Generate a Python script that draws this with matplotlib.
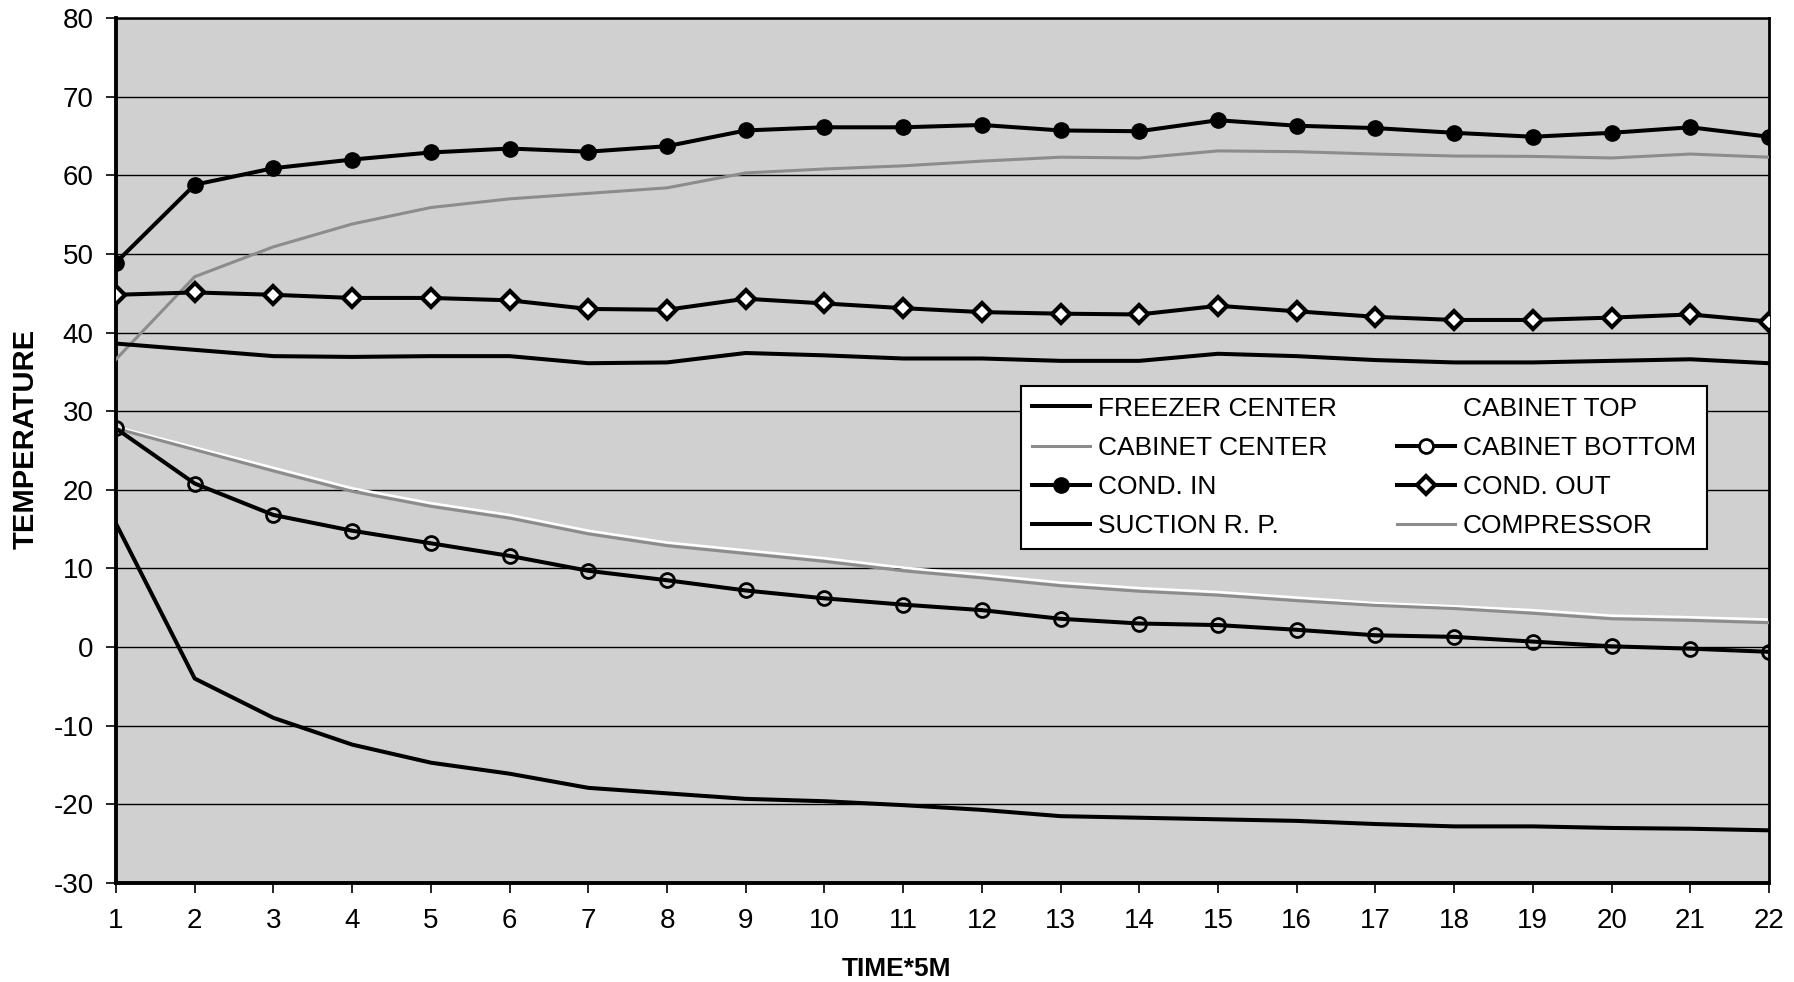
import matplotlib
matplotlib.use("Agg")
import matplotlib.pyplot as plt
from matplotlib.lines import Line2D

plt.rcParams["font.family"] = ["Liberation Sans", "DejaVu Sans"]
plt.rcParams["axes.unicode_minus"] = False

time_steps = list(range(1, 23))

freezer_center = [15.7, -4.0, -9.0, -12.4, -14.7, -16.1, -17.9, -18.6, -19.3, -19.6, -20.1,
                  -20.7, -21.5, -21.7, -21.9, -22.1, -22.5, -22.8, -22.8, -23.0, -23.1, -23.3]
cabinet_top = [28.0, 25.4, 22.8, 20.2, 18.3, 16.8, 14.8, 13.3, 12.3, 11.3, 10.1,
               9.2, 8.2, 7.5, 7.0, 6.3, 5.6, 5.2, 4.7, 4.0, 3.8, 3.5]
cabinet_center = [27.8, 25.1, 22.4, 19.8, 17.9, 16.4, 14.4, 12.9, 11.9, 10.9, 9.7,
                  8.8, 7.8, 7.1, 6.6, 5.9, 5.3, 4.9, 4.3, 3.6, 3.4, 3.1]
cabinet_bottom = [27.8, 20.8, 16.8, 14.8, 13.2, 11.6, 9.7, 8.5, 7.2, 6.2, 5.4,
                  4.7, 3.6, 3.0, 2.8, 2.2, 1.5, 1.3, 0.7, 0.1, -0.2, -0.6]
cond_in = [48.9, 58.8, 60.9, 62.0, 62.9, 63.4, 63.0, 63.7, 65.7, 66.1, 66.1,
           66.4, 65.7, 65.6, 67.0, 66.3, 66.0, 65.4, 64.9, 65.4, 66.1, 64.9]
cond_out = [44.8, 45.1, 44.8, 44.4, 44.4, 44.1, 43.0, 42.9, 44.3, 43.7, 43.1,
            42.6, 42.4, 42.3, 43.4, 42.7, 42.0, 41.6, 41.6, 41.9, 42.3, 41.4]
suction_rp = [38.6, 37.8, 37.0, 36.9, 37.0, 37.0, 36.1, 36.2, 37.4, 37.1, 36.7,
              36.7, 36.4, 36.4, 37.3, 37.0, 36.5, 36.2, 36.2, 36.4, 36.6, 36.1]
compressor = [36.6, 47.1, 50.9, 53.8, 55.9, 57.0, 57.7, 58.4, 60.3, 60.8, 61.2,
              61.8, 62.3, 62.2, 63.1, 63.0, 62.7, 62.45, 62.4, 62.2, 62.7, 62.3]

y_ticks = list(range(-30, 81, 10))

fig = plt.figure(figsize=(17.94, 9.82), dpi=100)
ax = fig.add_axes([116 / 1794, 1 - 883 / 982, 1653 / 1794, 865 / 982])
ax.set_facecolor("#d0d0d0")

# horizontal grid at every major tick
for yv in y_ticks:
    ax.axhline(yv, color="black", lw=1.0, zorder=1)

grey = "#8c8c8c"
thick = 2.9

ax.plot(time_steps, cabinet_top, color="white", lw=1.8, zorder=2)
ax.plot(time_steps, cabinet_center, color=grey, lw=2.2, zorder=3)
ax.plot(time_steps, compressor, color=grey, lw=2.2, zorder=3)
ax.plot(time_steps, freezer_center, color="black", lw=thick, zorder=4)
ax.plot(time_steps, suction_rp, color="black", lw=thick, zorder=4)
ax.plot(time_steps, cabinet_bottom, color="black", lw=thick, marker="o", markersize=10,
        markerfacecolor="none", markeredgecolor="black", markeredgewidth=2.0, zorder=5)
ax.plot(time_steps, cond_in, color="black", lw=thick, marker="o", markersize=11,
        markerfacecolor="black", markeredgecolor="black", zorder=5)
ax.plot(time_steps, cond_out, color="black", lw=thick, marker="D", markersize=9,
        markerfacecolor="white", markeredgecolor="black", markeredgewidth=3.0, zorder=5)

ax.set_xlim(1, 22)
ax.set_ylim(-30, 80)
ax.set_xticks(time_steps)
ax.set_yticks(y_ticks)
ax.tick_params(axis="both", direction="out", length=7, width=1.2, labelsize=20,
               colors="black")
ax.tick_params(axis="y", pad=9)
ax.tick_params(axis="x", pad=11)

for side, lw in (("left", 2.8), ("bottom", 2.8), ("top", 1.8), ("right", 2.0)):
    ax.spines[side].set_linewidth(lw)
    ax.spines[side].set_color("black")

ax.set_ylabel("TEMPERATURE", fontsize=21, fontweight="bold")
ax.yaxis.set_label_coords(-0.046, 0.513)
ax.set_xlabel("TIME*5M", fontsize=19, fontweight="bold",
              family=["Liberation Sans Narrow", "Liberation Sans"])
ax.xaxis.set_label_coords(0.472, -0.086)

# legend entries in column order (two columns)
h_freezer = Line2D([], [], color="black", lw=thick)
h_cab_center = Line2D([], [], color=grey, lw=2.2)
h_cond_in = Line2D([], [], color="black", lw=thick, marker="o", markersize=11,
                   markerfacecolor="black")
h_suction = Line2D([], [], color="black", lw=thick)
h_cab_top = Line2D([], [], color="white", lw=1.8)
h_cab_bottom = Line2D([], [], color="black", lw=thick, marker="o", markersize=10,
                      markerfacecolor="white", markeredgewidth=2.0)
h_cond_out = Line2D([], [], color="black", lw=thick, marker="D", markersize=9,
                    markerfacecolor="white", markeredgewidth=3.0)
h_compressor = Line2D([], [], color=grey, lw=2.2)

handles = [h_freezer, h_cab_center, h_cond_in, h_suction,
           h_cab_top, h_cab_bottom, h_cond_out, h_compressor]
labels = ["FREEZER CENTER", "CABINET CENTER", "COND. IN", "SUCTION R. P.",
          "CABINET TOP", "CABINET BOTTOM", "COND. OUT", "COMPRESSOR"]

leg = ax.legend(handles, labels, ncol=2, loc="upper left",
                bbox_to_anchor=(0.5475, 0.5746), fontsize=19, frameon=True,
                fancybox=False, framealpha=1.0, edgecolor="black",
                handlelength=2.2, handletextpad=0.3, columnspacing=2.3,
                labelspacing=0.58, borderpad=0.4, borderaxespad=0.0)
leg.get_frame().set_linewidth(1.5)
leg.set_zorder(10)

fig.savefig("out.png", dpi=100, facecolor="white")
